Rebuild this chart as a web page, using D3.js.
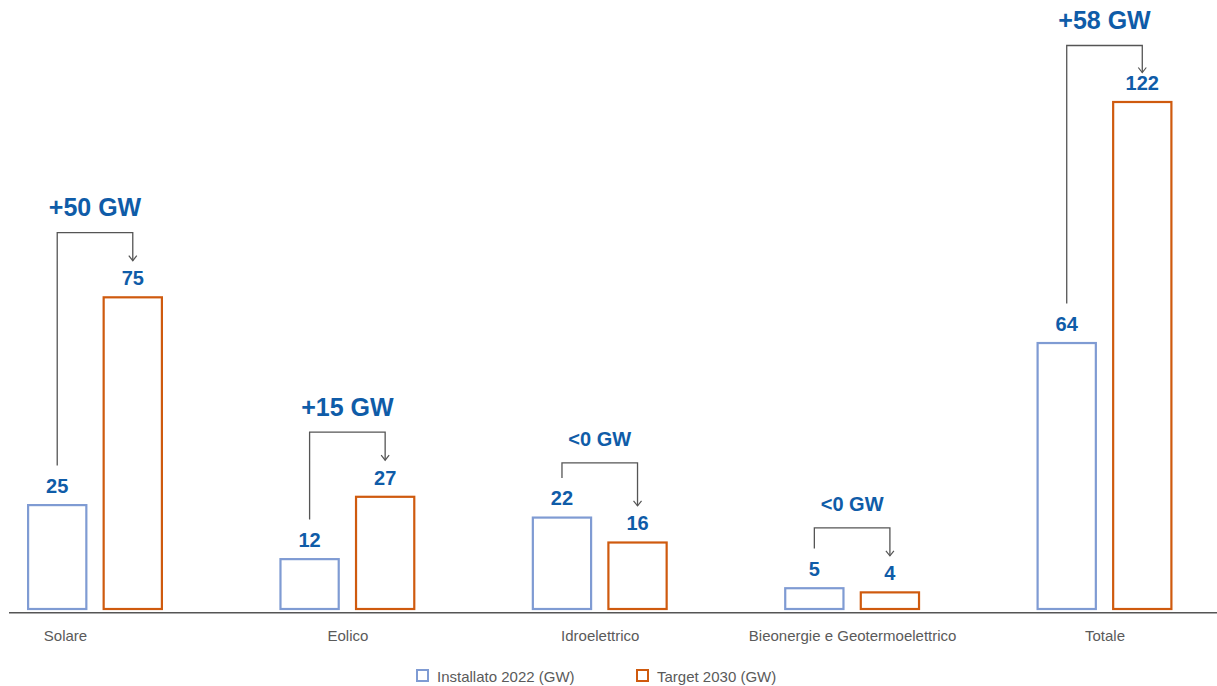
<!DOCTYPE html>
<html>
<head>
<meta charset="utf-8">
<script src="https://cdn.jsdelivr.net/npm/d3@7"></script>
<style>
  html, body { margin: 0; padding: 0; background: #fff; }
  svg { display: block; font-family: "Liberation Sans", Arial, Helvetica, sans-serif; }
</style>
</head>
<body>
<svg id="chart" width="1217" height="686"></svg>
<script>
// ---- data ----
const categories = ["Solare", "Eolico", "Idroelettrico", "Bieonergie e Geotermoelettrico", "Totale"];
const seriesNames = ["Installato 2022 (GW)", "Target 2030 (GW)"];
const installato2022 = [25, 12, 22, 5, 64];
const target2030 = [75, 27, 16, 4, 122];
const deltaLabels = ["+50 GW", "+15 GW", "<0 GW", "<0 GW", "+58 GW"];

// ---- styles ----
const colInst = "#7f9bd3";
const colTarget = "#cf5a0e";
const colValue = "#0f5ca8";
const colText = "#5a5a5a";
const colBracket = "#555555";

const svg = d3.select("#chart");
const W = 1217, H = 686;

const x = d3.scalePoint().domain(categories).range([95, 1104.5]).padding(0);
const xs = d3.scaleBand().domain(seriesNames).range([-68, 68]).paddingInner(0.2).paddingOuter(0);
const maxV = d3.max(target2030.concat(installato2022));
const y = d3.scaleLinear().domain([0, maxV]).range([609, 102]);

const rows = categories.map((c, i) => ({
  cat: c, i,
  vals: [
    { s: seriesNames[0], v: installato2022[i], color: colInst },
    { s: seriesNames[1], v: target2030[i], color: colTarget }
  ],
  delta: deltaLabels[i]
}));

// baseline / axis
const axisY = 612.75;
svg.append("line")
  .attr("x1", 9).attr("x2", W)
  .attr("y1", axisY).attr("y2", axisY)
  .attr("stroke", "#555").attr("stroke-width", 1.5);

const axisG = svg.append("g").attr("transform", `translate(0,${axisY})`)
  .call(d3.axisBottom(x).tickSize(0).tickPadding(18));
axisG.select(".domain").remove();
axisG.selectAll("text")
  .attr("font-size", 15)
  .attr("font-family", "'Liberation Sans', Arial, sans-serif")
  .attr("fill", colText)
  .attr("dy", "0.71em")
  .attr("dx", (d, i) => i === 0 ? -30 : 0);

// bars
const groups = svg.selectAll("g.grp").data(rows).join("g")
  .attr("class", "grp")
  .attr("transform", d => `translate(${x(d.cat)},0)`);

const sw = 2.2;
groups.selectAll("rect").data(d => d.vals).join("rect")
  .attr("x", d => xs(d.s) + sw / 2)
  .attr("width", xs.bandwidth() - sw)
  .attr("y", d => y(d.v))
  .attr("height", d => y(0) - y(d.v))
  .attr("fill", "#fff")
  .attr("stroke", d => d.color)
  .attr("stroke-width", sw);

const labelGap = 11;
groups.selectAll("text.val").data(d => d.vals).join("text")
  .attr("class", "val")
  .attr("x", d => xs(d.s) + xs.bandwidth() / 2)
  .attr("y", d => y(d.v) - sw / 2 - labelGap)
  .attr("text-anchor", "middle")
  .attr("font-size", 20)
  .attr("font-weight", "bold")
  .attr("fill", colValue)
  .text(d => d.v);

// brackets
const capH = 14.5;
groups.each(function(d) {
  const g = d3.select(this);
  const xl = xs(seriesNames[0]) + xs.bandwidth() / 2;
  const xr = xs(seriesNames[1]) + xs.bandwidth() / 2;
  const instTop = y(d.vals[0].v) - sw / 2 - labelGap - capH;
  const tgtTop = y(d.vals[1].v) - sw / 2 - labelGap - capH;
  let tip = tgtTop - 10;
  let top = Math.min(tip, instTop) - 28;
  top = Math.max(top, 45.5);          // keep the delta label inside the chart
  tip = Math.max(tip, top + 27);
  const leftBottom = instTop - 13;
  g.append("path")
    .attr("d", `M${xl},${leftBottom}V${top}H${xr}V${tip}`)
    .attr("fill", "none")
    .attr("stroke", colBracket)
    .attr("stroke-width", 1.3);
  g.append("path")
    .attr("d", `M${xr - 4},${tip - 5}L${xr},${tip}L${xr + 4},${tip - 5}`)
    .attr("fill", "none")
    .attr("stroke", colBracket)
    .attr("stroke-width", 1.2);
  const big = d.delta.charAt(0) === "+";
  g.append("text")
    .attr("x", (xl + xr) / 2)
    .attr("y", top - 16.5)
    .attr("text-anchor", "middle")
    .attr("font-size", big ? 25 : 20)
    .attr("font-weight", "bold")
    .attr("fill", colValue)
    .text(d.delta);
});

// legend
const legendItems = [
  { name: seriesNames[0], color: colInst, x: 416 },
  { name: seriesNames[1], color: colTarget, x: 636 }
];
const lg = svg.selectAll("g.leg").data(legendItems).join("g")
  .attr("class", "leg")
  .attr("transform", d => `translate(${d.x},669)`);
lg.append("rect")
  .attr("x", 1).attr("y", 1).attr("width", 11).attr("height", 11)
  .attr("fill", "#fff")
  .attr("stroke", d => d.color)
  .attr("stroke-width", 2);
lg.append("text")
  .attr("x", 21).attr("y", 12.5)
  .attr("font-size", 15)
  .attr("fill", colText)
  .text(d => d.name);
</script>
</body>
</html>
